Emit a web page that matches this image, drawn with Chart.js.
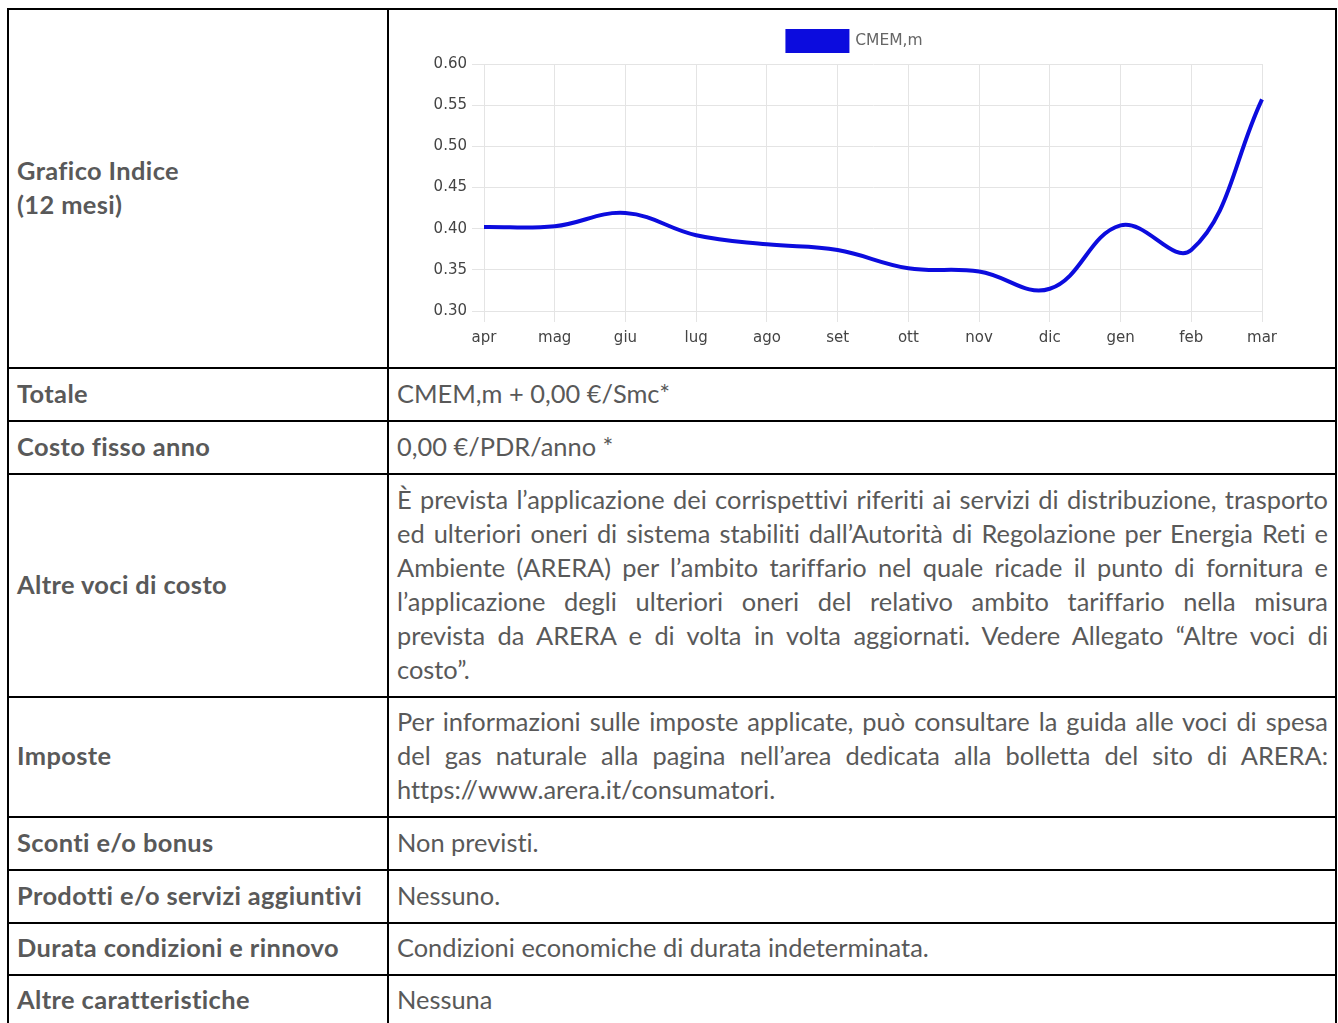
<!DOCTYPE html>
<html>
<head>
<meta charset="utf-8">
<script src="https://cdn.jsdelivr.net/npm/chart.js@4.4.0/dist/chart.umd.min.js"></script>
<style>
html,body{margin:0;padding:0;background:#fff;}
body{width:1338px;height:1023px;overflow:hidden;position:relative;font-family:Lato,"Open Sans",sans-serif;color:#595959;font-size:21px;font-variant-ligatures:none;}
.row{position:absolute;left:7px;width:1330px;box-sizing:border-box;border:2px solid #000;border-bottom:none;}
.row.last{border-bottom:2px solid #000;}
.l{position:absolute;left:0;top:0;bottom:0;width:378px;box-sizing:border-box;padding:0 0 6px 8px;display:flex;align-items:center;font-weight:bold;line-height:34px;letter-spacing:0.38px;}
.r{position:absolute;left:378px;right:0;top:0;bottom:0;box-sizing:border-box;border-left:2px solid #000;padding:0 7px 6px 8px;display:flex;align-items:center;line-height:34px;}
.jl{text-align:justify;text-align-last:justify;white-space:nowrap;}
.ll{text-align:left;white-space:nowrap;}
#chartBox{position:absolute;left:390px;top:10px;width:945px;height:356px;}
</style>
</head>
<body>
<div class="row" style="top:8px;height:361px;"><div class="l"><div>Grafico Indice<br>(12 mesi)</div></div><div class="r"></div></div>
<div class="row" style="top:367px;height:55px;"><div class="l">Totale</div><div class="r">CMEM,m + 0,00 €/Smc*</div></div>
<div class="row" style="top:420px;height:55px;"><div class="l">Costo fisso anno</div><div class="r">0,00 €/PDR/anno *</div></div>
<div class="row" style="top:473px;height:225px;"><div class="l">Altre voci di costo</div><div class="r"><div style="width:100%">
<div class="jl">È prevista l’applicazione dei corrispettivi riferiti ai servizi di distribuzione, trasporto</div>
<div class="jl">ed ulteriori oneri di sistema stabiliti dall’Autorità di Regolazione per Energia Reti e</div>
<div class="jl">Ambiente (ARERA) per l’ambito tariffario nel quale ricade il punto di fornitura e</div>
<div class="jl">l’applicazione degli ulteriori oneri del relativo ambito tariffario nella misura</div>
<div class="jl">prevista da ARERA e di volta in volta aggiornati. Vedere Allegato “Altre voci di</div>
<div class="ll">costo”.</div>
</div></div></div>
<div class="row" style="top:696px;height:122px;"><div class="l">Imposte</div><div class="r"><div style="width:100%">
<div class="jl">Per informazioni sulle imposte applicate, può consultare la guida alle voci di spesa</div>
<div class="jl">del gas naturale alla pagina nell’area dedicata alla bolletta del sito di ARERA:</div>
<div class="ll">https://www.arera.it/consumatori.</div>
</div></div></div>
<div class="row" style="top:816px;height:55px;"><div class="l">Sconti e/o bonus</div><div class="r">Non previsti.</div></div>
<div class="row" style="top:869px;height:55px;"><div class="l">Prodotti e/o servizi aggiuntivi</div><div class="r">Nessuno.</div></div>
<div class="row" style="top:922px;height:54px;"><div class="l">Durata condizioni e rinnovo</div><div class="r">Condizioni economiche di durata indeterminata.</div></div>
<div class="row last" style="top:974px;height:56px;"><div class="l">Altre caratteristiche</div><div class="r">Nessuna</div></div>

<div id="chartBox"><canvas id="c"></canvas></div>

<script>
// ---- data ----
const months = ['apr','mag','giu','lug','ago','set','ott','nov','dic','gen','feb','mar'];
const cmemValues = [0.402,0.403,0.419,0.392,0.381,0.374,0.352,0.348,0.327,0.404,0.374,0.557];
const seriesLabel = 'CMEM,m';
const yMin = 0.30, yMax = 0.60, yStep = 0.05;

// fit body font size to the reference text width
(function(){
  const cv = document.createElement('canvas').getContext('2d');
  cv.font = '100px Lato';
  const w = cv.measureText('Condizioni economiche di durata indeterminata.').width;
  const fs = 532 / w * 100;
  document.body.style.fontSize = fs.toFixed(2) + 'px';
})();

Chart.defaults.font.family = '"DejaVu Sans", "Liberation Sans", Arial, sans-serif';
const lineColor = 'rgb(12,12,222)';
const gridColor = '#e4e4e4';

// legend placement tweaks: move it right and leave a bit more room below it
const legendTweak = {
  id: 'legendTweak',
  beforeLayout(chart) {
    const lg = chart.legend;
    if (lg && !lg._tweaked) {
      const fit = lg.fit.bind(lg);
      lg.fit = function () { fit(); this.height += 3; };
      lg._tweaked = true;
    }
  },
  afterLayout(chart) {
    const lg = chart.legend;
    if (lg) { lg.left += 29; lg.right += 29; }
  }
};

new Chart(document.getElementById('c'), {
  type: 'line',
  data: {
    labels: months,
    datasets: [{
      label: seriesLabel,
      data: cmemValues,
      borderColor: lineColor,
      backgroundColor: lineColor,
      borderWidth: 4,
      pointRadius: 0,
      pointHoverRadius: 0,
      tension: 0.4,
      fill: false
    }]
  },
  plugins: [legendTweak],
  options: {
    responsive: true,
    maintainAspectRatio: false,
    animation: false,
    layout: { padding: { left: 0, right: 73, top: 10, bottom: 0 } },
    plugins: {
      legend: { labels: { boxWidth: 60, boxHeight: 20, color: '#666', font: { size: 15.5 }, padding: 11 } },
      tooltip: { enabled: false }
    },
    scales: {
      x: {
        grid: { color: gridColor, tickLength: 11 },
        border: { color: gridColor },
        ticks: { color: '#444', font: { size: 15 }, padding: 7, maxRotation: 0 },
        afterFit(s) { s.height = 55; }
      },
      y: {
        min: yMin, max: yMax,
        grid: { color: gridColor, tickLength: 12 },
        border: { color: gridColor },
        ticks: { stepSize: yStep, color: '#444', font: { size: 15 }, padding: 5, callback: v => Number(v).toFixed(2) },
        afterFit(s) { s.width = 94; }
      }
    }
  }
});
</script>
</body>
</html>
